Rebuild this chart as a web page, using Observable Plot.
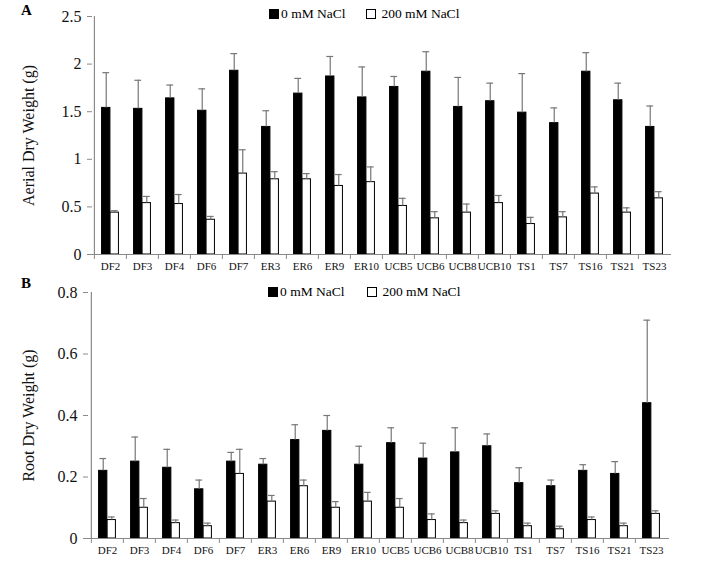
<!DOCTYPE html>
<html>
<head>
<meta charset="utf-8">
<script src="https://cdn.jsdelivr.net/npm/d3@7"></script>
<script src="https://cdn.jsdelivr.net/npm/@observablehq/plot@0.6"></script>
<style>
  body { margin: 0; background: #fff; font-family: "Liberation Serif", "Times New Roman", serif; }
  #wrap { position: relative; width: 701px; height: 566px; overflow: hidden; }
  .panel { position: absolute; left: 0; width: 701px; }
  .plabel { position: absolute; font-weight: bold; font-size: 15px; }
  .item { position: absolute; font-size: 13.5px; white-space: nowrap; display: flex; align-items: center; }
  .sw { display: inline-block; width: 8px; height: 8px; border: 1px solid #000; margin-right: 2px; }
</style>
</head>
<body>
<div id="wrap">
  <div class="panel" id="pa" style="top:0"></div>
  <div class="panel" id="pb" style="top:280px"></div>
  <div class="plabel" style="left:21px; top:2px">A</div>
  <div class="plabel" style="left:21px; top:275px">B</div>
  <span class="item" style="left:269px; top:6px"><span class="sw" style="background:#000"></span>0 mM NaCl</span>
  <span class="item" style="left:366px; top:6px"><span class="sw" style="background:#fff"></span>&nbsp;200 mM NaCl</span>
  <span class="item" style="left:268px; top:284px"><span class="sw" style="background:#000"></span>0 mM NaCl</span>
  <span class="item" style="left:367px; top:284px"><span class="sw" style="background:#fff"></span>&nbsp;200 mM NaCl</span>
</div>
<script>
const categories = ["DF2","DF3","DF4","DF6","DF7","ER3","ER6","ER9","ER10","UCB5","UCB6","UCB8","UCB10","TS1","TS7","TS16","TS21","TS23"];

const aerial0     = [1.54,1.53,1.64,1.51,1.93,1.34,1.69,1.87,1.65,1.76,1.92,1.55,1.61,1.49,1.38,1.92,1.62,1.34];
const aerial0Err  = [0.37,0.30,0.14,0.23,0.18,0.17,0.16,0.21,0.32,0.11,0.21,0.31,0.19,0.41,0.16,0.20,0.18,0.22];
const aerial200   = [0.44,0.54,0.53,0.365,0.85,0.79,0.79,0.72,0.76,0.51,0.38,0.44,0.54,0.32,0.39,0.64,0.44,0.59];
const aerial200Err= [0.02,0.07,0.10,0.035,0.25,0.08,0.06,0.12,0.16,0.08,0.07,0.09,0.08,0.07,0.06,0.07,0.05,0.07];

const root0       = [0.22,0.25,0.23,0.16,0.25,0.24,0.32,0.35,0.24,0.31,0.26,0.28,0.30,0.18,0.17,0.22,0.21,0.44];
const root0Err    = [0.04,0.08,0.06,0.03,0.03,0.02,0.05,0.05,0.06,0.05,0.05,0.08,0.04,0.05,0.02,0.02,0.04,0.27];
const root200     = [0.06,0.10,0.05,0.04,0.21,0.12,0.17,0.10,0.12,0.10,0.06,0.05,0.08,0.04,0.03,0.06,0.04,0.08];
const root200Err  = [0.01,0.03,0.01,0.01,0.08,0.02,0.02,0.02,0.03,0.03,0.02,0.01,0.01,0.01,0.01,0.01,0.01,0.01];

const yTicksA = [0, 0.5, 1, 1.5, 2, 2.5];
const yTicksB = [0, 0.2, 0.4, 0.6, 0.8];

const GRAY = "#8a8a8a";
const ERR = "#777";

function panel(o) {
  const W = 701;
  const bw = (W - o.ml - o.mr) / categories.length;
  const a = 0.235, h = 0.5;
  const rows = categories.map((c, i) => ({c, v0: o.v0[i], e0: o.e0[i], v2: o.v2[i], e2: o.e2[i]}));
  const c0 = (a + h) / 2;
  const c2 = (h + (1 - a)) / 2;
  const capHalf = 3.5;
  return Plot.plot({
    width: W, height: o.height,
    marginLeft: o.ml, marginRight: o.mr, marginTop: o.mt, marginBottom: o.mb,
    style: {fontFamily: '"Liberation Serif", "Times New Roman", serif', background: "#fff", color: "#000"},
    x: {type: "band", domain: categories, padding: 0, label: null, axis: null},
    y: {domain: o.domain, label: null, axis: null},
    marks: [
      Plot.barY(rows, {x: "c", y: "v0", fill: "#000", stroke: "#000", strokeWidth: 1, insetLeft: a * bw, insetRight: (1 - h) * bw}),
      Plot.barY(rows, {x: "c", y: "v2", fill: "#fff", stroke: "#000", strokeWidth: 1, insetLeft: h * bw, insetRight: a * bw}),
      Plot.ruleX(rows, {x: "c", y1: "v0", y2: d => d.v0 + d.e0, dx: (c0 - 0.5) * bw, stroke: ERR, strokeWidth: 1.2}),
      Plot.tickY(rows, {x: "c", y: d => d.v0 + d.e0, insetLeft: c0 * bw - capHalf, insetRight: (1 - c0) * bw - capHalf, stroke: ERR, strokeWidth: 1.2}),
      Plot.ruleX(rows, {x: "c", y1: "v2", y2: d => d.v2 + d.e2, dx: (c2 - 0.5) * bw, stroke: ERR, strokeWidth: 1.2}),
      Plot.tickY(rows, {x: "c", y: d => d.v2 + d.e2, insetLeft: c2 * bw - capHalf, insetRight: (1 - c2) * bw - capHalf, stroke: ERR, strokeWidth: 1.2}),
      Plot.ruleY([o.domain[0]], {stroke: GRAY, strokeWidth: 1.2}),
      Plot.ruleX([categories[0]], {dx: -bw / 2, stroke: GRAY, strokeWidth: 1.2}),
      Plot.axisX({tickSize: 5, tickFormat: () => "", dx: -bw / 2, stroke: GRAY, label: null}),
      Plot.axisX({tickSize: 0, tickPadding: 8, fontSize: 11, label: null, fill: "#111"}),
      Plot.axisY({ticks: o.ticks, tickFormat: d => String(d), tickSize: 5, tickPadding: 6, fontSize: 16, stroke: GRAY, label: null, fill: "#111"}),
      Plot.text([o.label], {frameAnchor: "left", textAnchor: "middle", rotate: -90, dx: o.labelDx, fontSize: 16, fill: "#111"})
    ]
  });
}

document.getElementById("pa").appendChild(panel({
  v0: aerial0, e0: aerial0Err, v2: aerial200, e2: aerial200Err,
  domain: [0, 2.5], ticks: yTicksA, label: "Aerial Dry Weight (g)",
  height: 280, ml: 92, mr: 30, mt: 16, mb: 26, labelDx: -64
}));
document.getElementById("pb").appendChild(panel({
  v0: root0, e0: root0Err, v2: root200, e2: root200Err,
  domain: [0, 0.8], ticks: yTicksB, label: "Root Dry Weight (g)",
  height: 286, ml: 88, mr: 32, mt: 12, mb: 28, labelDx: -60
}));
</script>
</body>
</html>
